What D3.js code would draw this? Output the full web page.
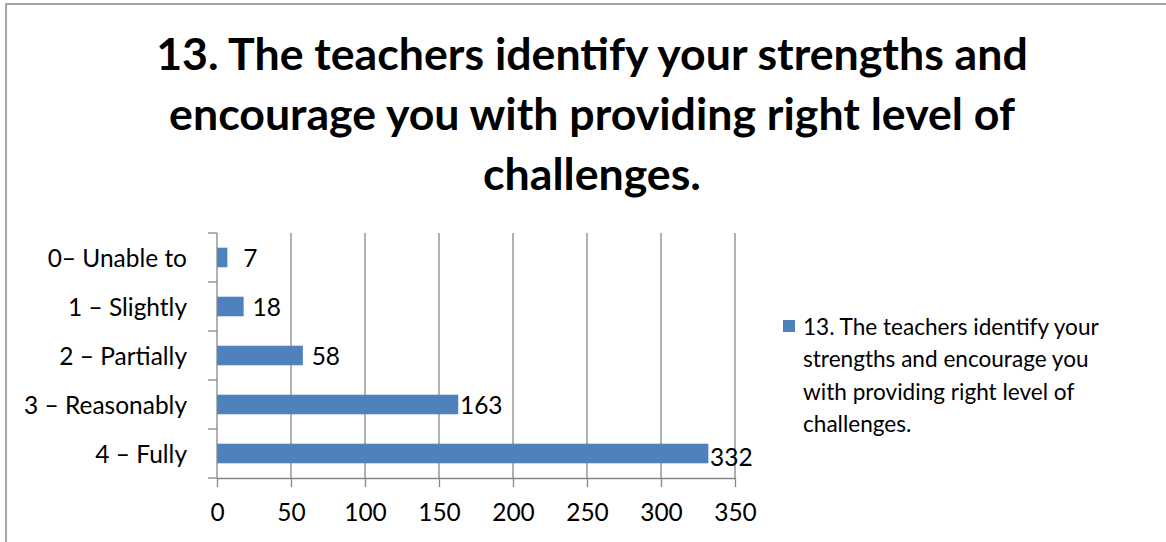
<!DOCTYPE html>
<html>
<head>
<meta charset="utf-8">
<script src="https://cdn.jsdelivr.net/npm/d3@7"></script>
<style>
  body { margin: 0; background: #fff; }
  svg { display: block; font-family: Lato, "Open Sans", sans-serif; }
</style>
</head>
<body>
<div id="chart"></div>
<script>
// Chart data
const categories = ['0– Unable to', '1 – Slightly', '2 – Partially', '3 – Reasonably', '4 – Fully'];
const values = [7, 18, 58, 163, 332];
const xTicks = [0, 50, 100, 150, 200, 250, 300, 350];
const titleLines = [
    '13. The teachers identify your strengths and',
    'encourage you with providing right level of',
    'challenges.'
];
const legendLines = [
    '13. The teachers identify your',
    'strengths and encourage you',
    'with providing right level of',
    'challenges.'
];

const width = 1166, height = 542;
const barColor = '#4f81bd';
const gridColor = '#878787';

const svg = d3.select('#chart')
    .append('svg')
    .attr('width', width)
    .attr('height', height);

// Measure a string so the font size can be matched to the picture's text widths
function fitSize(text, weight, target) {
    const t = svg.append('text')
        .style('font-size', '100px')
        .style('font-weight', weight)
        .text(text);
    const w = t.node().getComputedTextLength();
    t.remove();
    return 100 * target / w;
}

const titleSize = fitSize(titleLines[0], 'bold', 872);
const labelSize = fitSize('3 – Reasonably', 'normal', 163);
const legendSize = fitSize(legendLines[0], 'normal', 296);

// Outer chart border (runs off the right and bottom edge)
svg.append('rect')
    .attr('x', 6)
    .attr('y', 4)
    .attr('width', width + 20)
    .attr('height', height + 20)
    .style('fill', 'none')
    .style('stroke', '#898989')
    .style('stroke-width', 1.5);

// Title
svg.append('g')
    .selectAll('text')
    .data(titleLines)
    .join('text')
    .attr('x', 592)
    .attr('y', (d, i) => 70 + i * 60)
    .attr('text-anchor', 'middle')
    .style('font-size', titleSize + 'px')
    .style('font-weight', 'bold')
    .style('fill', '#000')
    .text(d => d);

// Scales
const x = d3.scaleLinear()
    .domain([0, 350])
    .range([217, 735]);

const y = d3.scaleBand()
    .domain(categories)
    .range([233, 478])
    .paddingInner(0.6)
    .paddingOuter(0.3);

const plotTop = 233, plotBottom = 478;

// Vertical gridlines
svg.append('g')
    .selectAll('line')
    .data(xTicks.slice(1))
    .join('line')
    .attr('x1', d => x(d))
    .attr('x2', d => x(d))
    .attr('y1', plotTop)
    .attr('y2', plotBottom)
    .style('stroke', gridColor)
    .style('stroke-width', 1.3);

// Bars
svg.append('g')
    .selectAll('rect')
    .data(values)
    .join('rect')
    .attr('x', x(0))
    .attr('y', (d, i) => y(categories[i]))
    .attr('width', d => x(d) - x(0))
    .attr('height', y.bandwidth())
    .style('fill', barColor);

// Data labels
svg.append('g')
    .selectAll('text')
    .data(values)
    .join('text')
    .attr('x', d => x(d) + 23)
    .attr('y', (d, i) => y(categories[i]) + y.bandwidth() / 2 + (d > 300 ? 4 : 1))
    .attr('dy', '0.36em')
    .attr('text-anchor', 'middle')
    .style('font-size', labelSize + 'px')
    .style('fill', '#000')
    .text(d => d);

// X axis
const xAxis = svg.append('g')
    .attr('transform', `translate(0,${plotBottom})`)
    .call(d3.axisBottom(x).tickValues(xTicks).tickSize(9).tickPadding(17).tickSizeOuter(0));

xAxis.select('.domain').style('stroke', gridColor).style('stroke-width', 1.3);
xAxis.selectAll('.tick line').style('stroke', gridColor).style('stroke-width', 1.3);
xAxis.selectAll('.tick text')
    .style('font-size', labelSize + 'px')
    .style('font-family', 'Lato, "Open Sans", sans-serif')
    .style('fill', '#000');

// Y axis: line with ticks at the category boundaries
const yAxis = svg.append('g');
const step = y.step();
const boundaries = categories.map(c => y(c) - step * y.paddingInner() / 2).concat([plotBottom]);
boundaries[0] = plotTop;

yAxis.append('line')
    .attr('x1', x(0)).attr('x2', x(0))
    .attr('y1', plotTop).attr('y2', plotBottom)
    .style('stroke', gridColor)
    .style('stroke-width', 1.3);

yAxis.selectAll('.ytick')
    .data(boundaries)
    .join('line')
    .attr('class', 'ytick')
    .attr('x1', x(0) - 9).attr('x2', x(0))
    .attr('y1', d => d).attr('y2', d => d)
    .style('stroke', gridColor)
    .style('stroke-width', 1.3);

yAxis.selectAll('.ylabel')
    .data(categories)
    .join('text')
    .attr('class', 'ylabel')
    .attr('x', 187)
    .attr('y', d => y(d) + y.bandwidth() / 2 + 1)
    .attr('dy', '0.36em')
    .attr('text-anchor', 'end')
    .style('font-size', labelSize + 'px')
    .style('fill', '#000')
    .text(d => d);

// Legend
const legend = svg.append('g');

legend.append('rect')
    .attr('x', 783)
    .attr('y', 320)
    .attr('width', 12)
    .attr('height', 12)
    .style('fill', barColor);

legend.selectAll('text')
    .data(legendLines)
    .join('text')
    .attr('x', 803)
    .attr('y', (d, i) => 335 + i * 32.3)
    .style('font-size', legendSize + 'px')
    .style('fill', '#000')
    .text(d => d);
</script>
</body>
</html>
